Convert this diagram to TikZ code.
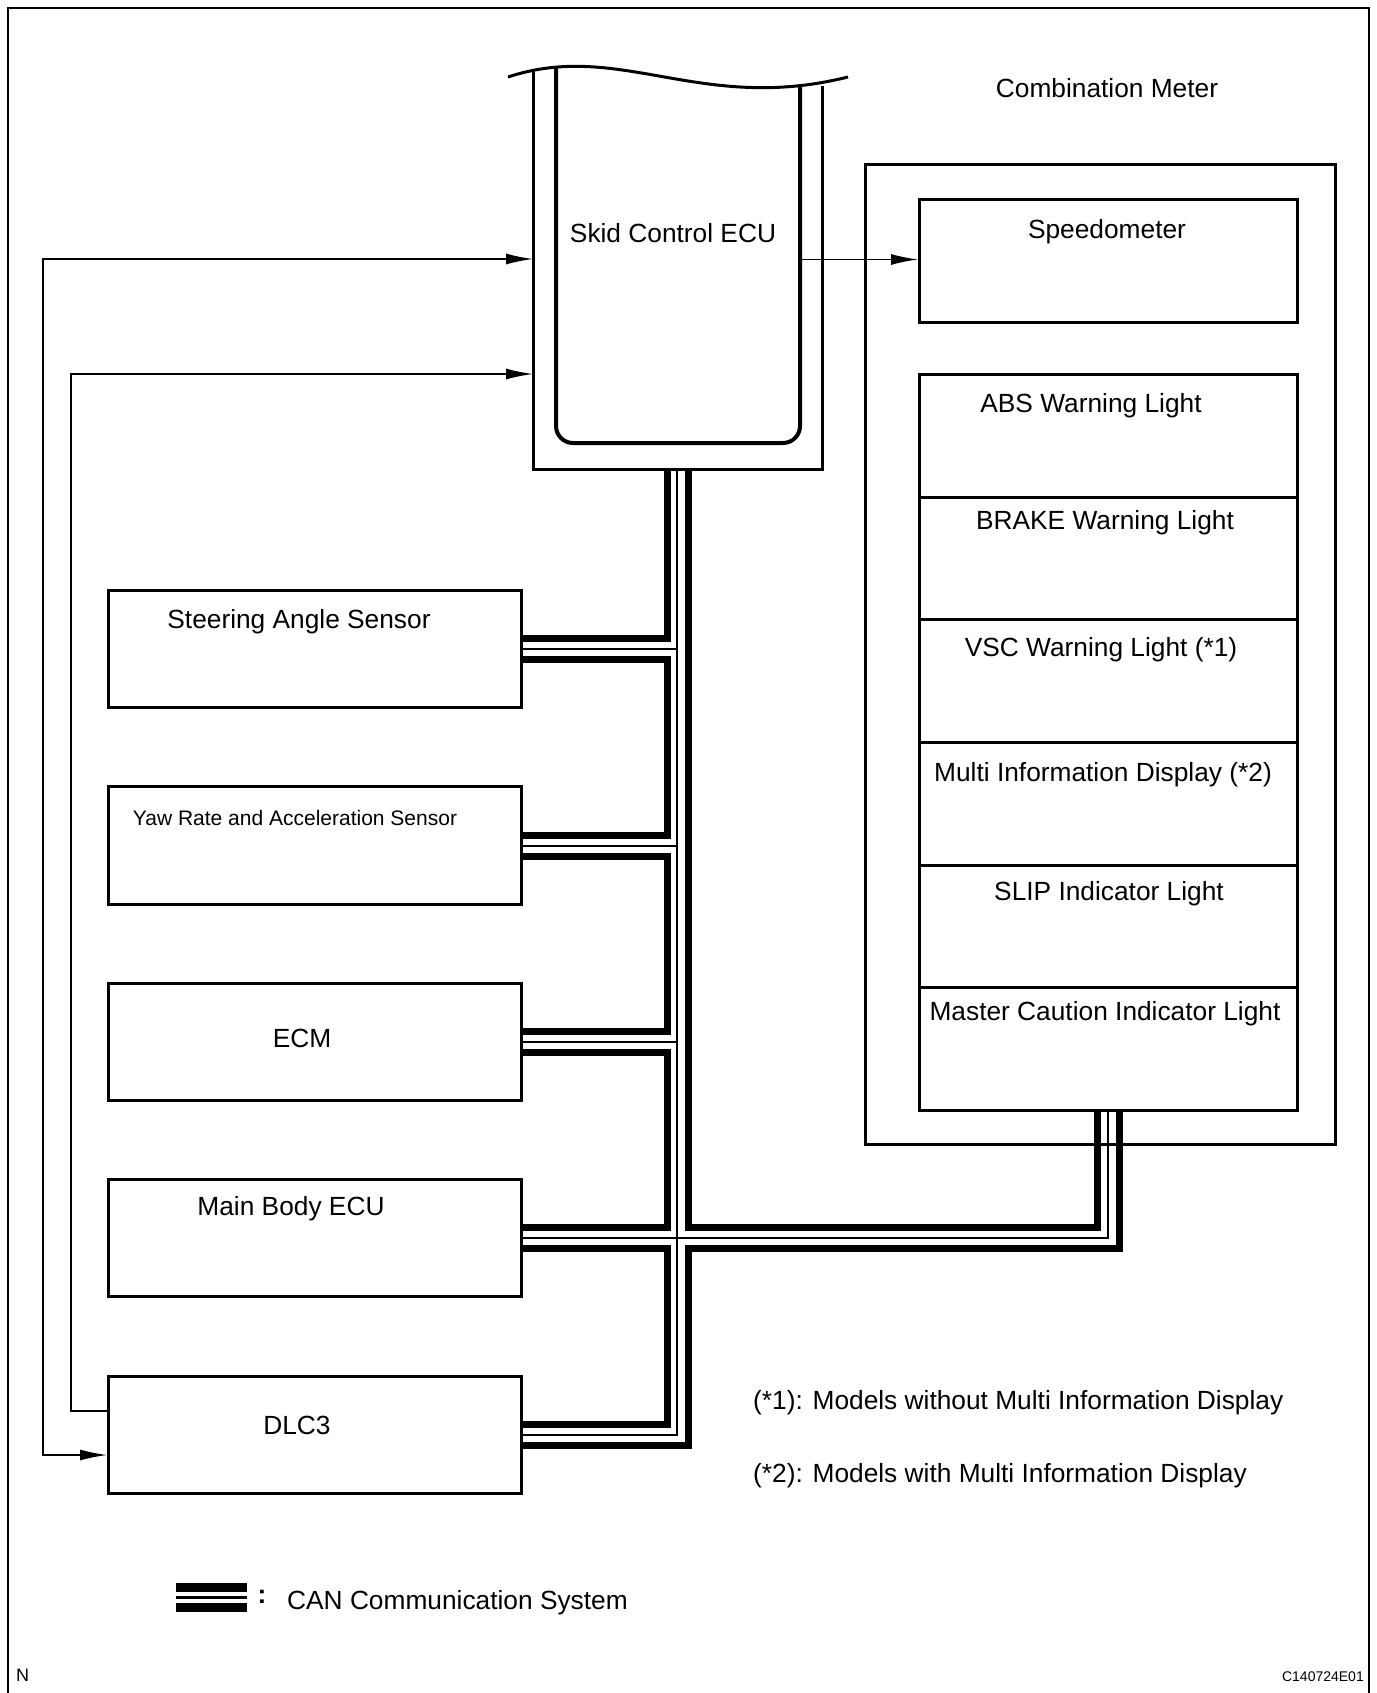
\documentclass[tikz,border=0pt]{standalone}
\usepackage{fontspec}
\setmainfont{Liberation Sans}
\usetikzlibrary{arrows.meta,calc}
\begin{document}
\begin{tikzpicture}[x=1pt,y=-1pt,
  box/.style={draw, line width=3pt, inner sep=0pt, anchor=north west},
  lbl/.style={font=\fontsize{26.3}{30}\selectfont, inner sep=0pt, anchor=base},
  smlbl/.style={font=\fontsize{21}{24}\selectfont, inner sep=0pt, anchor=base},
  canthick/.style={line width=7pt},
  canthin/.style={line width=2pt},
  conn/.style={line width=1.5pt},
  tip/.tip={Latex[length=27pt,width=11pt]}
]
\useasboundingbox (0,0) rectangle (1376,1693);
% outer frame
\draw[line width=2.5pt] (8,1693) -- (8,8) -- (1369,8) -- (1369,1693);

% ---- Skid Control ECU ----
\node[inner sep=0pt, minimum width=289pt, minimum height=399pt, anchor=north west] (ecu) at (533,70) {};
\draw[line width=3pt] (508,77) .. controls (620,40) and (700,114) .. (848,77);
\draw[line width=3pt] (533,70) -- (533,469) -- (822,469) -- (822,86);
\draw[line width=4pt, rounded corners=17pt] (556,67) -- (556,443) -- (800,443) -- (800,86);
\node[lbl] (ecut) at (673,243) {Skid Control ECU};

% ---- left boxes ----
\node[box, minimum width=413pt, minimum height=117pt] (sas) at (107,589) {};
\node[box, minimum width=413pt, minimum height=118pt] (yaw) at (107,785) {};
\node[box, minimum width=413pt, minimum height=117pt] (ecm) at (107,982) {};
\node[box, minimum width=413pt, minimum height=117pt] (mb)  at (107,1178) {};
\node[box, minimum width=413pt, minimum height=117pt] (dlc) at (107,1375) {};
\node[lbl]   (sast) at (299,628) {Steering Angle Sensor};
\node[smlbl] (yawt) at (295,825) {Yaw Rate and Acceleration Sensor};
\node[lbl]   (ecmt) at (302,1047) {ECM};
\node[lbl]   (mbt)  at (291,1215) {Main Body ECU};
\node[lbl]   (dlct) at (297,1434) {DLC3};

% ---- Combination meter ----
\node[lbl] (cmt) at (1107,98) {Combination Meter};
\node[box, minimum width=470pt, minimum height=980pt] (cm) at (864,163) {};
\node[box, minimum width=378pt, minimum height=123pt] (speedo) at (918,198) {};
\node[lbl] (speedot) at (1107,239) {Speedometer};
\foreach \i/\nm in {0/abs,1/brake,2/vsc,3/mid,4/slip,5/mcl}
  \node[box, minimum width=378pt, minimum height=122.67pt] (\nm) at (918,{373+\i*122.67}) {};
\node[lbl] (abst)   at (1091,412) {ABS Warning Light};
\node[lbl] (braket) at (1105,529) {BRAKE Warning Light};
\node[lbl] (vsct)   at (1101,656) {VSC Warning Light (*1)};
\node[lbl] (midt)   at (1103,781) {Multi Information Display (*2)};
\node[lbl] (slipt)  at (1109,900) {SLIP Indicator Light};
\node[lbl] (mclt)   at (1105,1020) {Master Caution Indicator Light};

% ---- connectors ----
\coordinate (loopA1) at (43,259);
\coordinate (loopA2) at (43,1455);
\coordinate (loopB1) at (71,374);
\coordinate (loopB2) at (71,1411);
\coordinate (ecuout) at (800,259.5);
\draw[conn, tip-tip] (ecu.west |- loopA1) -- (loopA1) -- (loopA2) -- (dlc.west |- loopA2);
\draw[conn, -tip] (dlc.west |- loopB2) -- (loopB2) -- (loopB1) -- (ecu.west |- loopB1);
\draw[conn, -tip] (ecuout) -- (speedo.west |- ecuout);

% ---- CAN bus ----
\coordinate (busL) at (667,469);
\coordinate (busM) at (677,469);
\coordinate (busR) at (688,469);
\coordinate (mA) at (1097,1109);
\coordinate (mB) at (1108,1109);
\coordinate (mC) at (1119,1109);
\foreach \b in {sas,yaw,ecm,mb,dlc}{
  \coordinate (\b T) at ($(\b.east)+(0,-10.5)$);
  \coordinate (\b B) at ($(\b.east)+(0,10.5)$);
}
\draw[canthick] (busL) -- (busL |- sasT) -- (sasT);
\draw[canthick] (sasB) -- (busL |- sasB) -- (busL |- yawT) -- (yawT);
\draw[canthick] (yawB) -- (busL |- yawB) -- (busL |- ecmT) -- (ecmT);
\draw[canthick] (ecmB) -- (busL |- ecmB) -- (busL |- mbT) -- (mbT);
\draw[canthick] (mbB) -- (busL |- mbB) -- (busL |- dlcT) -- (dlcT);
\draw[canthick] (busR) -- (busR |- mbT) -- (mA |- mbT) -- (mA);
\draw[canthick] (mC) -- (mC |- mbB) -- (busR |- mbB) -- (busR |- dlcB) -- (dlcB);
\draw[canthin] (busM) -- (busM |- dlc.east) -- (dlc.east);
\draw[canthin] (sas.east) -- (busM |- sas.east);
\draw[canthin] (yaw.east) -- (busM |- yaw.east);
\draw[canthin] (ecm.east) -- (busM |- ecm.east);
\draw[canthin] (mb.east) -- (mB |- mb.east) -- (mB);

% ---- notes ----
\node[lbl, anchor=base west] (n1) at (753,1409) {(*1): Models without Multi Information Display};
\node[lbl, anchor=base west] (n2) at (753,1482) {(*2): Models with Multi Information Display};

% ---- legend ----
\fill (176,1583) rectangle (247,1592);
\fill (176,1596) rectangle (247,1599);
\fill (176,1603) rectangle (247,1612);
\node[lbl, font=\bfseries\fontsize{26.3}{30}\selectfont] (colon) at (262,1603) {:};
\node[lbl, anchor=base west] (legt) at (287,1609) {CAN Communication System};

% ---- footer ----
\node[inner sep=0pt, anchor=base west, font=\fontsize{18}{20}\selectfont] (nl) at (16,1681) {N};
\node[inner sep=0pt, anchor=base east, font=\fontsize{14}{16}\selectfont] (code) at (1364,1681) {C140724E01};
\end{tikzpicture}
\end{document}
